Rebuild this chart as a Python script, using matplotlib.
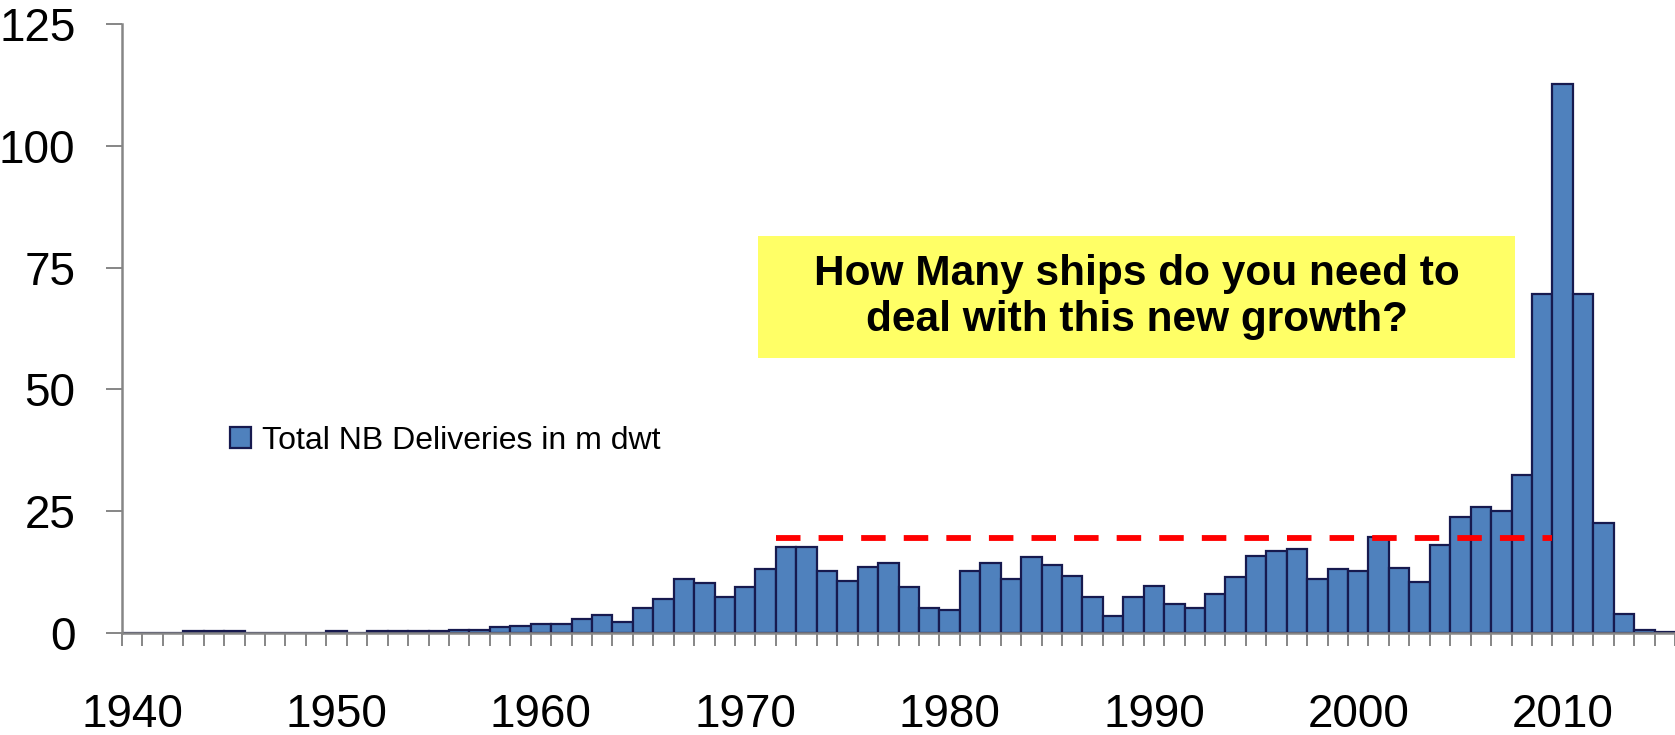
import matplotlib
matplotlib.use("Agg")
import matplotlib.pyplot as plt
from matplotlib import font_manager
from matplotlib.patches import Rectangle
import numpy as np

# Annual newbuilding deliveries, million dwt
years = list(range(1940, 2016))
deliveries = [
    0.0, 0.0, 0.1, 0.4, 0.4, 0.4, 0.1, 0.1, 0.1, 0.1,        # 1940-1949
    0.4, 0.1, 0.4, 0.4, 0.4, 0.4, 0.7, 0.7, 1.2, 1.5,        # 1950-1959
    1.9, 1.9, 2.8, 3.6, 2.3, 5.2, 6.9, 11.0, 10.2, 7.3,      # 1960-1969
    9.4, 13.1, 17.6, 17.6, 12.7, 10.6, 13.5, 14.4, 9.4, 5.2, # 1970-1979
    4.8, 12.7, 14.4, 11.0, 15.5, 13.9, 11.8, 7.3, 3.5, 7.3,  # 1980-1989
    9.7, 6.0, 5.2, 8.1, 11.4, 15.9, 16.8, 17.2, 11.0, 13.1,  # 1990-1999
    12.7, 19.7, 13.4, 10.5, 18.0, 23.8, 25.8, 25.0, 32.4, 69.6,  # 2000-2009
    112.6, 69.6, 22.5, 3.9, 0.6, 0.3,                        # 2010-2015
]
series_label = "Total NB Deliveries in m dwt"
y_ticks = [0, 25, 50, 75, 100, 125]
decade_labels = [1940, 1950, 1960, 1970, 1980, 1990, 2000, 2010]

# Earlier peak level carried forward as a dashed reference
ref_level = 19.6
ref_from, ref_to = 1972, 2009

callout = "How Many ships do you need to\ndeal with this new growth?"

available = {f.name for f in font_manager.fontManager.ttflist}
axis_font = "Liberation Sans Narrow" if "Liberation Sans Narrow" in available else "Liberation Sans"

W, H = 1675, 735
fig = plt.figure(figsize=(W / 100, H / 100), dpi=100)
ax = fig.add_axes([122 / W, 102 / H, (W - 122) / W, 609 / H])

x = np.arange(len(years))
bar_fill = "#4F81BD"
bar_edge = "#171A4F"
axis_grey = "#868686"

ax.bar(x, deliveries, width=1.0, color=bar_fill, edgecolor=bar_edge,
       linewidth=1.6, label=series_label, zorder=2)

i0 = years.index(ref_from) - 0.5
i1 = years.index(ref_to) + 0.5
ax.plot([i0, i1], [ref_level, ref_level], color="#FF0000", linewidth=4.2,
        linestyle=(0, (4.2, 3.1)), solid_capstyle="butt", dash_capstyle="butt",
        zorder=3)

ax.set_xlim(-0.5, len(years) - 0.5)
ax.set_ylim(0, 125)

for side in ("top", "right"):
    ax.spines[side].set_visible(False)
for side in ("left", "bottom"):
    ax.spines[side].set_color(axis_grey)
    ax.spines[side].set_linewidth(1.8)
    ax.spines[side].set_zorder(4)

ax.set_yticks(y_ticks)
ax.set_yticklabels([str(v) for v in y_ticks], fontsize=33, family=axis_font)
ax.tick_params(axis="y", length=11.5, width=1.4, color=axis_grey, pad=22)

ax.set_xticks(x[:: 1][[years.index(d) for d in decade_labels]])
ax.set_xticklabels([str(d) for d in decade_labels], fontsize=33, family=axis_font)
ax.tick_params(axis="x", which="major", length=0, pad=43)
ax.set_xticks(np.arange(len(years) + 1) - 0.5, minor=True)
ax.tick_params(axis="x", which="minor", length=9, width=1.4, color=axis_grey)

leg = fig.legend(loc="center left", bbox_to_anchor=(230 / W, 1 - 441 / H),
                 frameon=False, borderpad=0, borderaxespad=0,
                 handlelength=0.66, handleheight=0.63, handletextpad=0.34,
                 prop={"family": axis_font, "size": 23})

# Callout box
bx0, by0, bx1, by1 = 758, 236, 1515, 358
fig.patches.append(Rectangle((bx0 / W, 1 - by1 / H), (bx1 - bx0) / W, (by1 - by0) / H,
                             transform=fig.transFigure, facecolor="#FFFF66",
                             edgecolor="none", zorder=5))
fig.text((bx0 + bx1) / 2 / W, 1 - (by0 + by1) / 2 / H, callout,
         ha="center", va="center", fontsize=30.5, fontweight="bold",
         family="Liberation Sans", linespacing=1.2, zorder=6)

fig.savefig("out.png", dpi=100)
